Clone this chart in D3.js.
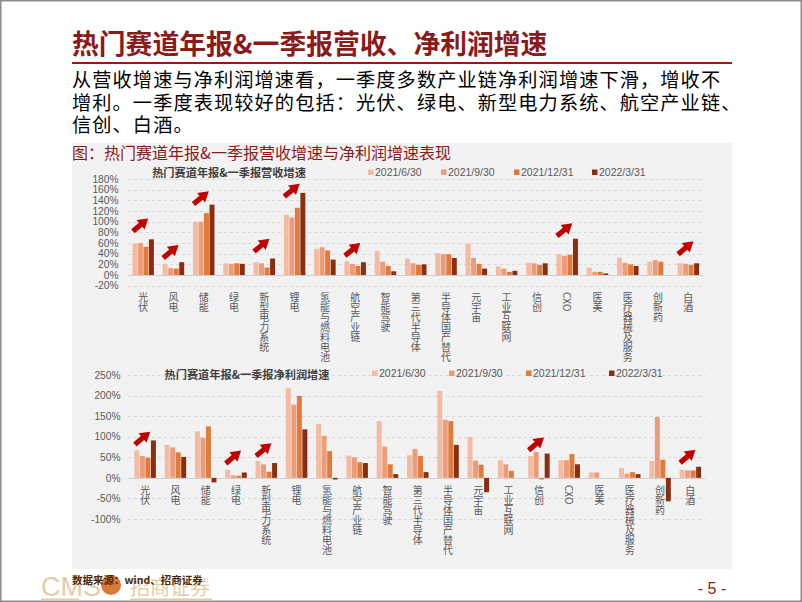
<!DOCTYPE html>
<html lang="zh">
<head>
<meta charset="utf-8">
<title>热门赛道年报&一季报营收、净利润增速</title>
<script src="https://d3js.org/d3.v7.min.js"></script>
<style>
  body { margin: 0; background: #fff; }
  svg { display: block; }
</style>
</head>
<body>
<div id="chart"></div>
<script>
// categories and series
var categories = ["光伏", "风电", "储能", "绿电", "新型电力系统", "锂电", "氢能与燃料电池", "航空产业链",
  "智能驾驶", "第三代半导体", "半导体国产替代", "元宇宙", "工业互联网", "信创", "CXO", "医美",
  "医疗器械及服务", "创新药", "白酒"];
var seriesNames = ["2021/6/30", "2021/9/30", "2021/12/31", "2022/3/31"];

// 营收增速 (%)
var rev2106 = [59, 21, 100, 22, 24, 113, 49, 26, 45, 31, 41, 59, 16, 23, 39, 14, 33, 25, 22];
var rev2109 = [60, 13, 100, 21, 22, 108, 52, 21, 25, 22, 39, 32, 12, 22, 36, 6, 23, 28, 21];
var rev2112 = [53, 12, 116, 22, 14, 126, 46, 17, 17, 19, 39, 21, 6, 19, 38, 6, 20, 25, 19];
var rev2203 = [67, 24, 132, 21, 31, 154, 29, 24, 7, 20, 32, 12, 8, 22, 68, 3, 17, null, 22];

// 净利润增速 (%)
var np2106 = [67, 80, 113, 20, 41, 218, 131, 54, 138, 55, 211, 99, 43, 53, 43, 13, 24, 41, 20];
var np2109 = [53, 74, 97, 6, 33, 178, 102, 50, 76, 70, 141, 42, 33, 63, 43, 13, 10, 148, 18];
var np2112 = [49, 62, 125, 5, 15, 199, 65, 38, 33, 53, 138, 32, 17, -4, 58, null, 14, 44, 18];
var np2203 = [91, 51, -11, 13, 36, 118, -4, 36, 9, 14, 80, -35, null, 59, 33, null, 9, -57, 27];

// 图中红色箭头 (类别, 箭尾所在数值)
var revArrows = [["光伏", 82], ["风电", 32], ["储能", 133], ["新型电力系统", 44], ["锂电", 147],
  ["航空产业链", 36], ["CXO", 73], ["白酒", 39]];
var npArrows = [["光伏", 81], ["绿电", 35], ["新型电力系统", 53], ["信创", 67], ["白酒", 37]];

var revTicks = [-20, 0, 20, 40, 60, 80, 100, 120, 140, 160, 180];
var npTicks = [-100, -50, 0, 50, 100, 150, 200, 250];

var colors = ["#F4BBA2", "#EC9C78", "#E07A3D", "#8B2E10"];
var W = 802, H = 602;
var cjk = "'Noto Sans CJK SC', sans-serif";
var latin = "'Liberation Sans', Arial, sans-serif";

var svg = d3.select("#chart").append("svg")
  .attr("width", W)
  .attr("height", H);

// page frame
svg.append("rect").attr("x", 0.75).attr("y", 0.75).attr("width", W - 1.5).attr("height", H - 1.5)
  .attr("fill", "#fff").attr("stroke", "#8c8c8c").attr("stroke-width", 1.5);

// heading
svg.append("text").attr("x", 72).attr("y", 54)
  .attr("fill", "#8B1A1A").attr("font-family", cjk).attr("font-size", 26.8).attr("font-weight", "bold")
  .text("热门赛道年报&一季报营收、净利润增速");
svg.append("line").attr("x1", 72).attr("x2", 732).attr("y1", 63).attr("y2", 63)
  .attr("stroke", "#A31515").attr("stroke-width", 2);

var body = ["从营收增速与净利润增速看，一季度多数产业链净利润增速下滑，增收不",
  "增利。一季度表现较好的包括：光伏、绿电、新型电力系统、航空产业链、",
  "信创、白酒。"];
svg.selectAll(".body").data(body).enter().append("text")
  .attr("class", "body")
  .attr("x", 72).attr("y", function(d, i) { return 87 + i * 22.5; })
  .attr("fill", "#000").attr("font-family", cjk).attr("font-size", 19.2)
  .attr("letter-spacing", 1.1)
  .text(function(d) { return d; });

// figure panel
svg.append("rect").attr("x", 72).attr("y", 143).attr("width", 660).attr("height", 426).attr("fill", "#F2F2F2");
svg.append("text").attr("x", 72).attr("y", 159)
  .attr("fill", "#8B1A1A").attr("font-family", cjk).attr("font-size", 16)
  .text("图：热门赛道年报&一季报营收增速与净利润增速表现");

function arrowPath() {
  // block arrow pointing along +x, tail at origin
  return "M0,-2.6 L10,-2.6 L10,-6.2 L20,0 L10,6.2 L10,2.6 L0,2.6 Z";
}

function drawChart(cfg) {
  var g = svg.append("g");
  var x = d3.scaleBand().domain(categories).range(cfg.xRange).paddingInner(0.29).paddingOuter(0.145);
  var xs = d3.scaleBand().domain(d3.range(4)).range([0, x.bandwidth()]).paddingInner(0.1);
  var y = d3.scaleLinear().domain(cfg.yDomain).range(cfg.yRange);

  // gridlines
  g.selectAll(".grid").data(cfg.ticks).enter().append("line")
    .attr("x1", cfg.gridX[0]).attr("x2", cfg.gridX[1])
    .attr("y1", function(d) { return Math.round(y(d)) + 0.5; })
    .attr("y2", function(d) { return Math.round(y(d)) + 0.5; })
    .attr("stroke", function(d) { return d === 0 ? "#d0d0d0" : "#d9d9d9"; })
    .attr("stroke-dasharray", function(d) { return d === 0 ? null : "3,3"; })
    .attr("stroke-width", 1);

  // y axis labels
  var yAxis = d3.axisLeft(y).tickValues(cfg.ticks).tickSize(0).tickPadding(0)
    .tickFormat(function(d) { return d + "%"; });
  var ya = g.append("g").attr("transform", "translate(" + cfg.labelX + ",0)").call(yAxis);
  ya.select(".domain").remove();
  ya.selectAll("text").attr("fill", "#595959").attr("font-family", latin).attr("font-size", 10.2);

  // bars
  cfg.series.forEach(function(vals, si) {
    g.selectAll(".bar" + si).data(vals.map(function(v, i) { return {c: categories[i], v: v}; })
      .filter(function(d) { return d.v !== null; }))
      .enter().append("rect")
      .attr("x", function(d) { return x(d.c) + xs(si); })
      .attr("width", xs.bandwidth())
      .attr("y", function(d) { return Math.min(y(d.v), y(0)); })
      .attr("height", function(d) { return Math.abs(y(d.v) - y(0)); })
      .attr("fill", colors[si]);
  });

  // category labels (vertical)
  g.selectAll(".cat").data(categories).enter().append("text")
    .attr("x", function(d) { return x(d) + x.bandwidth() / 2; })
    .attr("y", cfg.catY)
    .style("writing-mode", "vertical-rl")
    .attr("fill", "#595959").attr("font-family", cjk).attr("font-size", 10)
    .text(function(d) { return d; });

  // arrows
  g.selectAll(".arrow").data(cfg.arrows).enter().append("path")
    .attr("d", arrowPath())
    .attr("transform", function(d) {
      return "translate(" + (x(d[0]) + 0.5) + "," + y(d[1]) + ") rotate(-40)";
    })
    .attr("fill", "#C00000");

  // title
  g.append("text").attr("x", cfg.titleX).attr("y", cfg.titleY)
    .attr("text-anchor", "middle")
    .attr("fill", "#404040").attr("font-family", cjk).attr("font-size", 11.2).attr("font-weight", "bold")
    .text(cfg.title);

  // legend
  var lg = g.selectAll(".leg").data(seriesNames).enter().append("g")
    .attr("transform", function(d, i) { return "translate(" + cfg.legendX[i] + "," + cfg.legendY + ")"; });
  lg.append("rect").attr("x", 0).attr("y", -6.5).attr("width", 5.5).attr("height", 5.5)
    .attr("fill", function(d, i) { return colors[i]; });
  lg.append("text").attr("x", 7).attr("y", 0)
    .attr("fill", "#595959").attr("font-family", latin).attr("font-size", 10.5)
    .text(function(d) { return d; });
}

drawChart({
  series: [rev2106, rev2109, rev2112, rev2203],
  yDomain: [-20, 180], yRange: [285.7, 179], ticks: revTicks,
  xRange: [128, 703.5], gridX: [128, 703.5], labelX: 118.5,
  catY: 292, arrows: revArrows,
  title: "热门赛道年报&一季报营收增速", titleX: 229, titleY: 176.5,
  legendX: [368, 441, 514, 592], legendY: 176
});

drawChart({
  series: [np2106, np2109, np2112, np2203],
  yDomain: [-100, 250], yRange: [519, 375], ticks: npTicks,
  xRange: [130, 705.5], gridX: [128, 705], labelX: 120.5,
  catY: 485, arrows: npArrows,
  title: "热门赛道年报&一季报净利润增速", titleX: 247, titleY: 378.5,
  legendX: [372, 449, 526, 609], legendY: 377
});

// footer: logo mark (faint) and source
var foot = svg.append("g");
foot.append("text").attr("x", 41).attr("y", 596)
  .attr("fill", "#E3CDA8").attr("font-family", latin).attr("font-size", 27)
  .text("CMS");
foot.append("circle").attr("cx", 111).attr("cy", 585).attr("r", 10).attr("fill", "#D77A3A");
foot.append("text").attr("x", 130).attr("y", 595)
  .attr("fill", "#E3CDA8").attr("font-family", cjk).attr("font-size", 20)
  .text("招商证券");
foot.append("rect").attr("x", 41).attr("y", 598.5).attr("width", 38).attr("height", 2).attr("fill", "#E3CDA8");
foot.append("rect").attr("x", 130).attr("y", 598.5).attr("width", 82).attr("height", 2).attr("fill", "#E3CDA8");
foot.append("text").attr("x", 72).attr("y", 584)
  .attr("fill", "#4a2a10").attr("font-family", cjk).attr("font-size", 10.5).attr("font-weight", "bold")
  .text("数据来源：wind、招商证券");
foot.append("text").attr("x", 712).attr("y", 594).attr("text-anchor", "middle")
  .attr("fill", "#8B1A1A").attr("font-family", latin).attr("font-size", 16)
  .text("- 5 -");
</script>
</body>
</html>
